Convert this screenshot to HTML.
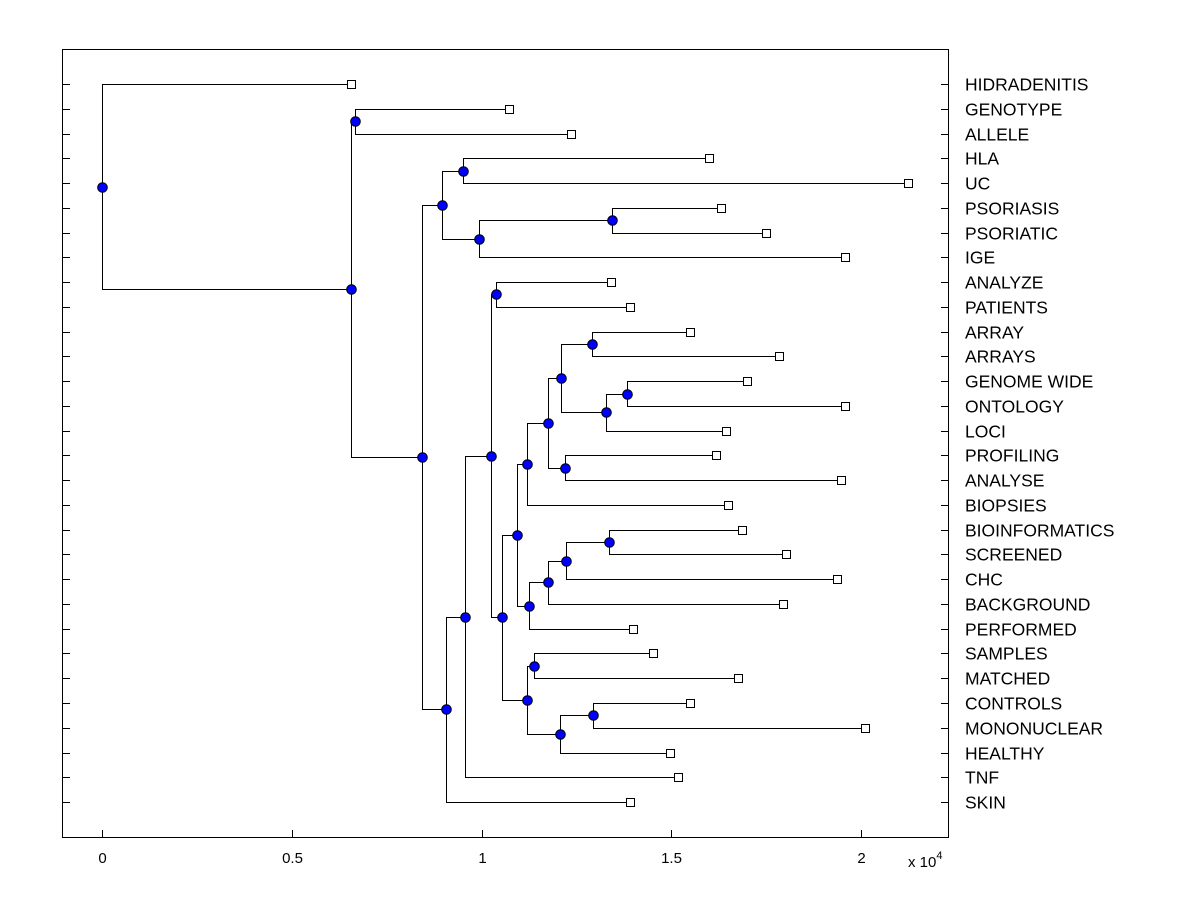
<!DOCTYPE html>
<html><head><meta charset="utf-8"><style>
html,body{margin:0;padding:0;background:#fff;}
svg{display:block;font-family:"Liberation Sans",Arial,sans-serif;}
</style></head><body>
<svg id="chart" width="1200" height="900" viewBox="0 0 1200 900" xmlns="http://www.w3.org/2000/svg">
<rect x="0" y="0" width="1200" height="900" fill="#fff"/>
<g id="plot"></g>
</svg>
<script>
const leafNames = ["HIDRADENITIS","GENOTYPE","ALLELE","HLA","UC","PSORIASIS","PSORIATIC","IGE","ANALYZE","PATIENTS","ARRAY","ARRAYS","GENOME WIDE","ONTOLOGY","LOCI","PROFILING","ANALYSE","BIOPSIES","BIOINFORMATICS","SCREENED","CHC","BACKGROUND","PERFORMED","SAMPLES","MATCHED","CONTROLS","MONONUCLEAR","HEALTHY","TNF","SKIN"];
const leafValues = [6560,10720,12355,15990,21230,16310,17490,19570,13410,13910,15490,17830,16990,19570,16440,16170,19470,16490,16860,18020,19360,17940,13990,14520,16750,15490,20100,14960,15170,13910];
// internal nodes: children referenced as "L<i>" (leaf) or "N<i>" (node index)
const nodeLeft  = ["L1","L3","L5","N2","N1","L8","L10","L12","N7","N6","L15","N9","N11","L18","N13","N14","N15","N12","L23","L25","N19","N18","N17","N5","N23","N24","N4","N0","L0"];
const nodeRight = ["L2","L4","L6","L7","N3","L9","L11","L13","L14","N8","L16","N10","L17","L19","L20","L21","L22","N16","L24","L26","L27","N20","N21","N22","L28","L29","N25","N26","N27"];
const nodeHeights = [6665,9510,13435,9930,8960,10380,12910,13830,13280,12090,12200,11750,11200,13360,12220,11750,11250,10930,11380,12930,12070,11200,10540,10250,9560,9060,8430,6560,0];
const xTicks = [0,0.5,1,1.5,2];

const X0=102, XS=379.6/10000, Y0=84, YS=24.76;
const xs = v => X0 + v*XS;
const ys = i => Y0 + i*YS;
const NS="http://www.w3.org/2000/svg";
const g=document.getElementById('plot');
function mk(t,a){const e=document.createElementNS(NS,t);for(const k in a)e.setAttribute(k,a[k]);g.appendChild(e);return e;}

const box=mk('rect',{x:62.5,y:49.5,width:886,height:788,fill:'none',stroke:'#000','stroke-width':1});


xTicks.forEach(t=>{
  const px=Math.round(xs(t*10000))+0.5;
  const l=mk('line',{x1:px,x2:px,y1:838,y2:830,stroke:'#000'});
  
  
  const tx=mk('text',{x:px,y:863,'text-anchor':'middle','font-size':15});
  tx.textContent=String(t);
  
  
});
const ex=mk('text',{x:908,y:867,'font-size':15});
ex.innerHTML='x 10<tspan dy="-8" font-size="11">4</tspan>';



leafNames.forEach((n,i)=>{
  const y=Math.round(ys(i))+0.5;
  const a=mk('line',{x1:62,x2:70,y1:y,y2:y,stroke:'#000'});
  
  
  const b=mk('line',{x1:941,x2:949,y1:y,y2:y,stroke:'#000'});
  
  
  const t=mk('text',{x:965,y:y+6,'font-size':17.5});
  t.textContent=n;
  
  
});

const pos={};
leafNames.forEach((n,i)=>{pos['L'+i]={x:leafValues[i],y:ys(i)};});
function getPos(id){
  if(pos[id])return pos[id];
  const k=+id.slice(1);
  const a=getPos(nodeLeft[k]), b=getPos(nodeRight[k]);
  pos[id]={x:nodeHeights[k],y:(a.y+b.y)/2};
  return pos[id];
}
nodeHeights.forEach((h,k)=>getPos('N'+k));
nodeHeights.forEach((h,k)=>{
  const p=pos['N'+k], a=pos[nodeLeft[k]], b=pos[nodeRight[k]];
  const px=Math.round(xs(p.x))+0.5;
  const d=`M${xs(a.x)},${Math.round(a.y)+0.5}H${px}V${Math.round(b.y)+0.5}H${xs(b.x)}`;
  const e=mk('path',{d:d,fill:'none',stroke:'#000','stroke-width':1});
  
  
});
leafNames.forEach((n,i)=>{
  const p=pos['L'+i];
  const r=mk('rect',{x:Math.round(xs(p.x))-3.5,y:Math.round(p.y)-3.5,width:8,height:8,fill:'#fff',stroke:'#000'});
  
  
});
nodeHeights.forEach((h,k)=>{
  const p=pos['N'+k];
  const c=mk('circle',{cx:Math.round(xs(p.x))+0.5,cy:Math.round(p.y)+0.5,r:4.8,fill:'#0000ff',stroke:'#000','stroke-width':1});
  
  
});
</script>
</body></html>
